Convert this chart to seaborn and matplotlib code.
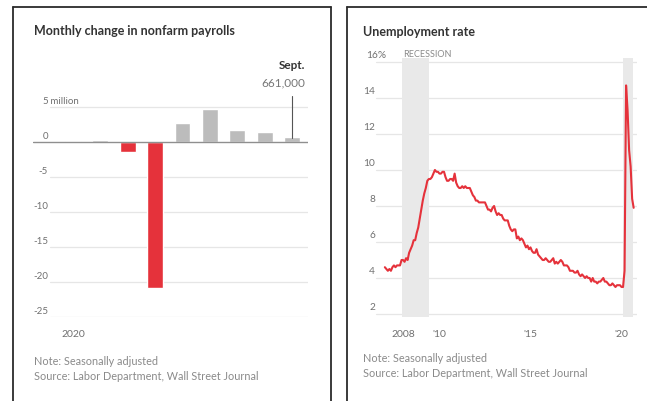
import numpy as np
import pandas as pd
import matplotlib.pyplot as plt
import seaborn as sns
from matplotlib.lines import Line2D
from matplotlib.transforms import blended_transform_factory

sns.set_style("white")
plt.rcParams['font.family'] = ['Lato', 'DejaVu Sans']

# --- data ---
months = ['Jan', 'Feb', 'Mar', 'Apr', 'May', 'Jun', 'Jul', 'Aug', 'Sep']
payrolls = [0.21, 0.25, -1.37, -20.79, 2.73, 4.78, 1.76, 1.49, 0.66]  # millions
payroll_ticks = [5, 0, -5, -10, -15, -20, -25]
payroll_labels = ['5', '0', '-5', '-10', '-15', '-20', '-25']

unemp_2007 = [4.6, 4.5, 4.4, 4.5, 4.4, 4.6, 4.7, 4.6, 4.7, 4.7, 4.7, 5.0]
unemp_2008 = [5.0, 4.9, 5.1, 5.0, 5.4, 5.6, 5.8, 6.1, 6.1, 6.5, 6.8, 7.3]
unemp_2009 = [7.8, 8.3, 8.7, 9.0, 9.4, 9.5, 9.5, 9.6, 9.8, 10.0, 9.9, 9.9]
unemp_2010 = [9.8, 9.8, 9.9, 9.9, 9.6, 9.4, 9.4, 9.5, 9.5, 9.4, 9.8, 9.3]
unemp_2011 = [9.1, 9.0, 9.0, 9.1, 9.0, 9.1, 9.0, 9.0, 9.0, 8.8, 8.6, 8.5]
unemp_2012 = [8.3, 8.3, 8.2, 8.2, 8.2, 8.2, 8.2, 8.0, 7.8, 7.8, 7.7, 7.9]
unemp_2013 = [8.0, 7.7, 7.5, 7.6, 7.5, 7.5, 7.3, 7.2, 7.2, 7.2, 6.9, 6.7]
unemp_2014 = [6.6, 6.7, 6.7, 6.2, 6.3, 6.1, 6.2, 6.1, 5.9, 5.7, 5.8, 5.6]
unemp_2015 = [5.7, 5.5, 5.4, 5.4, 5.6, 5.3, 5.2, 5.1, 5.0, 5.0, 5.1, 5.0]
unemp_2016 = [4.9, 4.9, 5.0, 5.1, 4.8, 4.9, 4.8, 4.9, 5.0, 4.9, 4.7, 4.7]
unemp_2017 = [4.7, 4.6, 4.4, 4.4, 4.4, 4.3, 4.3, 4.4, 4.2, 4.1, 4.2, 4.1]
unemp_2018 = [4.0, 4.1, 4.0, 4.0, 3.8, 4.0, 3.8, 3.8, 3.7, 3.8, 3.8, 3.9]
unemp_2019 = [4.0, 3.8, 3.8, 3.7, 3.6, 3.6, 3.7, 3.6, 3.5, 3.6, 3.6, 3.6]
unemp_2020 = [3.5, 3.5, 4.4, 14.7, 13.3, 11.1, 10.2, 8.4, 7.9]
recessions = [(2007.96, 2009.4), (2020.1, 2020.65)]
rate_ticks = [2, 4, 6, 8, 10, 12, 14, 16]
year_ticks = list(range(2008, 2021))
year_labels = {2008: '2008', 2010: "'10", 2015: "'15", 2020: "'20"}

rate = (unemp_2007 + unemp_2008 + unemp_2009 + unemp_2010 + unemp_2011 + unemp_2012
        + unemp_2013 + unemp_2014 + unemp_2015 + unemp_2016 + unemp_2017 + unemp_2018
        + unemp_2019 + unemp_2020)
unemp = pd.DataFrame({'date': pd.date_range('2007-01-01', periods=len(rate), freq='MS'),
                      'rate': rate})
unemp['year'] = unemp['date'].dt.year + (unemp['date'].dt.month - 1) / 12

RED = '#e5323b'
GREY_BAR = '#bcbcbc'
GRID = '#e6e6e6'
TXT = '#707070'
NOTE = '#8a8a8a'
W, H = 647, 402

fig = plt.figure(figsize=(6.47, 4.02), dpi=100)


def px(x0, y0, x1, y1):
    # pixel box (top-left origin) -> figure fraction rect
    return [x0 / W, 1 - y1 / H, (x1 - x0) / W, (y1 - y0) / H]


# panel borders (pixel coords, top-left origin)
for xs, ys in [([13, 13], [7.5, 402]), ([13, 331], [7.5, 7.5]), ([331, 331], [7.5, 402]),
               ([347, 347], [7.5, 402]), ([347, 647], [7.5, 7.5])]:
    fig.add_artist(Line2D([x / W for x in xs], [1 - y / H for y in ys],
                          color='#2b2b2b', lw=1.3))

# --------------------------
# left: payrolls
# --------------------------
ax1 = fig.add_axes(px(33, 94, 308, 318))
colors = [RED if v < 0 else GREY_BAR for v in payrolls]
sns.barplot(x=months, y=payrolls, hue=months, palette=colors, legend=False,
            width=0.58, saturation=1, ax=ax1, zorder=3)
ax1.set_xlim(-1.46, 8.58)
ax1.set_ylim(-25, 7)
ax1.set_yticks([])
for v in payroll_ticks:
    if v != 0:
        ax1.axhline(v, xmin=0.062, color=GRID, lw=0.9, zorder=0)
ax1.axhline(0, color='#8f8f8f', lw=1.0, zorder=4)
tr = blended_transform_factory(ax1.transAxes, ax1.transData)
lab_x = (48 - 33) / 275
for v, lab in zip(payroll_ticks, payroll_labels):
    ax1.text(lab_x, v + 0.3, lab, transform=tr, fontsize=7, color=TXT, va='bottom', ha='right')
ax1.text(lab_x, 5.3, ' million', transform=tr, fontsize=7, color=TXT, va='bottom', ha='left')
ax1.set_xticks([0])
ax1.set_xticklabels(['2020'], fontsize=7.5, color=TXT)
ax1.tick_params(axis='x', length=3, width=0.8, color='#999999', pad=6)
for s in ax1.spines.values():
    s.set_visible(False)
ax1.set_xlabel('')
ax1.set_ylabel('')
ax1.text(8.47, 11.0, 'Sept.', fontsize=8.5, fontweight='bold', color='#333333',
         ha='right', va='center', clip_on=False)
ax1.text(8.47, 8.6, '661,000', fontsize=8.5, color='#777777', ha='right', va='center',
         clip_on=False)
ax1.plot([8, 8], [6.6, 0.6], color='#555555', lw=0.8, clip_on=False, zorder=5)

fig.text(34 / W, 1 - 31 / H, 'Monthly change in nonfarm payrolls', fontsize=9,
         fontweight='bold', color='#333333', va='center')
fig.text(34 / W, 1 - 362 / H, 'Note: Seasonally adjusted', fontsize=7.8, color=NOTE, va='center')
fig.text(34 / W, 1 - 377 / H, 'Source: Labor Department, Wall Street Journal', fontsize=7.8,
         color=NOTE, va='center')

# --------------------------
# right: unemployment rate
# --------------------------
ax2 = fig.add_axes(px(363, 59.4, 637, 317.7))
for a, b in recessions:
    ax2.axvspan(a, b, color='#e9e9e9', lw=0, zorder=1)
sns.lineplot(data=unemp, x='year', y='rate', color=RED, lw=1.5, ax=ax2, zorder=4)
ax2.set_xlim(2005.8, 2020.85)
ax2.set_ylim(1.85, 16.2)
ax2.set_yticks([])
for v in rate_ticks:
    ax2.axhline(v, xmin=0.047, color=GRID, lw=0.9, zorder=0)
tr2 = blended_transform_factory(ax2.transAxes, ax2.transData)
lab_x2 = (375 - 363) / 274
for v in rate_ticks[:-1]:
    ax2.text(lab_x2, v + 0.15, str(v), transform=tr2, fontsize=7.3,
             color=TXT, va='bottom', ha='right')
ax2.text((366 - 363) / 274, 16.15, '16%', transform=tr2, fontsize=7.3, color=TXT,
         va='bottom', ha='left')
ax2.text(2008.0, 16.2, 'RECESSION', fontsize=6.5, color=NOTE, va='bottom', ha='left')
ax2.set_xticks(year_ticks)
ax2.set_xticklabels([year_labels.get(y, '') for y in year_ticks], fontsize=7.5, color=TXT)
ax2.tick_params(axis='x', length=2.5, width=0.8, color='#999999', pad=6)
for t in ax2.xaxis.get_major_ticks():
    if t.get_loc() in (2010, 2015, 2020):
        t.tick1line.set_markersize(5)
for s in ax2.spines.values():
    s.set_visible(False)
ax2.set_xlabel('')
ax2.set_ylabel('')

fig.text(363 / W, 1 - 32 / H, 'Unemployment rate', fontsize=9, fontweight='bold',
         color='#333333', va='center')
fig.text(363 / W, 1 - 359 / H, 'Note: Seasonally adjusted', fontsize=7.8, color=NOTE, va='center')
fig.text(363 / W, 1 - 374 / H, 'Source: Labor Department, Wall Street Journal', fontsize=7.8,
         color=NOTE, va='center')

plt.savefig('out.png', dpi=100)
